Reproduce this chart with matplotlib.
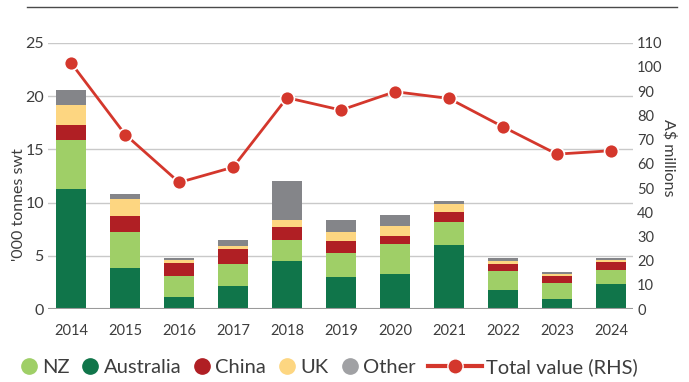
import matplotlib
matplotlib.use("Agg")
import matplotlib.pyplot as plt
import numpy as np
from matplotlib.lines import Line2D

plt.rcParams['font.family'] = ['Lato', 'DejaVu Sans']

# Export volumes ('000 tonnes swt) by destination, and total value (A$ m)
years = ['2014', '2015', '2016', '2017', '2018', '2019',
         '2020', '2021', '2022', '2023', '2024']
australia = [11.26, 3.85, 1.13, 2.16, 4.51, 3.00, 3.29, 6.01, 1.78, 0.94, 2.35]
nz = [4.60, 3.38, 1.97, 2.06, 1.97, 2.26, 2.81, 2.16, 1.79, 1.50, 1.31]
china = [1.41, 1.50, 1.22, 1.41, 1.22, 1.12, 0.75, 0.93, 0.65, 0.66, 0.75]
uk = [1.88, 1.60, 0.28, 0.28, 0.65, 0.85, 0.94, 0.76, 0.29, 0.19, 0.19]
other = [1.41, 0.47, 0.22, 0.57, 3.66, 1.12, 1.03, 0.28, 0.28, 0.18, 0.19]
total_value = [101.6, 72.1, 52.3, 58.6, 87.3, 82.2, 89.8, 87.0, 75.3, 64.0, 65.4]

c_nz = '#9fcf67'
c_aus = '#10754a'
c_china = '#b01f24'
c_uk = '#fdd681'
c_other = '#848589'
c_line = '#d4372c'
txt = '#3d3d3d'

fig = plt.figure(figsize=(6.89, 3.82), dpi=100)
ax = fig.add_axes([0.0697, 0.191, 0.849, 0.697])
ax2 = ax.twinx()

x = np.arange(len(years))
w = 0.556
bottom = np.zeros(len(years))
for vals, col in [(australia, c_aus), (nz, c_nz), (china, c_china),
                  (uk, c_uk), (other, c_other)]:
    ax.bar(x, vals, w, bottom=bottom, color=col, zorder=3)
    bottom += np.array(vals)

ax2.plot(x, total_value, color=c_line, lw=2, marker='o', ms=10,
         mfc=c_line, mec='white', mew=1.2, zorder=5)

ax.set_xlim(-0.43, 10.41)
ax.set_ylim(0, 25)
ax2.set_ylim(0, 110)
ax.set_yticks(range(0, 26, 5))
ax2.set_yticks(range(0, 111, 10))
ax.set_xticks(x)
ax.set_xticklabels(years)

ax.grid(axis='y', color='#c9c9c9', lw=1, zorder=0)
ax.axhline(0, color='#9a9a9a', lw=1.5, zorder=4)

for a in (ax, ax2):
    for s in a.spines.values():
        s.set_visible(False)
ax.tick_params(axis='y', length=0, pad=3, labelsize=11.5, colors=txt)
ax.tick_params(axis='x', length=0, pad=11, labelsize=10.5, colors=txt)
ax2.tick_params(axis='y', length=0, pad=3, labelsize=10.5, colors=txt)

fig.text(0.028, 0.465, "'000 tonnes swt", rotation=90, ha='center', va='center',
         fontsize=11.5, color=txt)
fig.text(0.970, 0.588, "A$ millions", rotation=270, ha='center', va='center',
         fontsize=11.5, color=txt)

# rule across the top of the chart
fig.add_artist(Line2D([27 / 689, 677 / 689], [1 - 7 / 382, 1 - 7 / 382],
                      color='#4a4a4a', lw=1))

dot_handles = [
    Line2D([], [], ls='none', marker='o', ms=11, color=c)
    for c in (c_nz, c_aus, c_china, c_uk, '#a0a1a4')
]
leg1 = fig.legend(dot_handles, ['NZ', 'Australia', 'China', 'UK', 'Other'],
                  loc='center left', bbox_to_anchor=(0.03, 0.038), ncol=5,
                  frameon=False, fontsize=14.5, handletextpad=0.25,
                  columnspacing=0.65, handlelength=0.8, borderaxespad=0,
                  borderpad=0, labelcolor=txt)
line_handle = Line2D([], [], color=c_line, lw=3, marker='o', ms=11,
                     mfc=c_line, mec='white', mew=1)
fig.legend([line_handle], ['Total value (RHS)'], loc='center left',
           bbox_to_anchor=(0.621, 0.038), frameon=False, fontsize=14.5,
           handletextpad=0.2, handlelength=2.7, borderaxespad=0,
           borderpad=0, labelcolor=txt)

fig.savefig('out.png', dpi=100)
